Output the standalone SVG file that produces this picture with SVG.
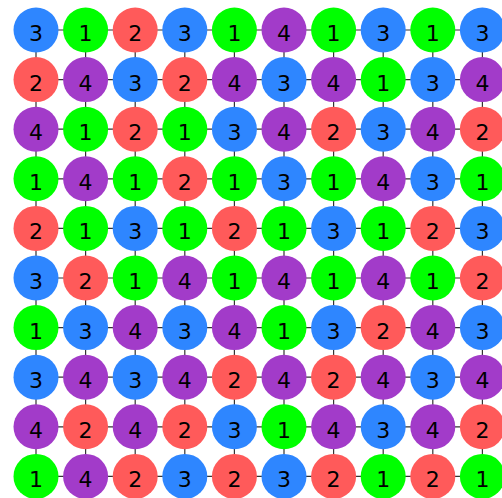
<svg xmlns="http://www.w3.org/2000/svg" width="502" height="498" viewBox="0 0 502 498">
<style>
.e{stroke:#333;stroke-width:1.2;fill:none}
.c1{fill:#00ff00}.c2{fill:#ff5a5a}.c3{fill:#2e86ff}.c4{fill:#a23bc9}
text{font-family:"DejaVu Sans",sans-serif;font-size:22px;fill:#000;text-anchor:middle}
</style>
<rect width="502" height="498" fill="#fff"/>
<g id="edges" class="e">
<path d="M36 30H482.4M36 79.6H482.4M36 129.2H482.4M36 178.8H482.4M36 228.4H482.4M36 278H482.4M36 327.6H482.4M36 377.2H482.4M36 426.8H482.4M36 476.4H482.4"/>
<path d="M36 30V476.4M85.6 30V476.4M135.2 30V476.4M184.8 30V476.4M234.4 30V476.4M284 30V476.4M333.6 30V476.4M383.2 30V476.4M432.8 30V476.4M482.4 30V476.4"/>
</g>
<g id="n0_0"><circle class="c3" cx="36" cy="30" r="22.5"/><text x="36" y="41">3</text></g>
<g id="n0_1"><circle class="c1" cx="85.6" cy="30" r="22.5"/><text x="85.6" y="41">1</text></g>
<g id="n0_2"><circle class="c2" cx="135.2" cy="30" r="22.5"/><text x="135.2" y="41">2</text></g>
<g id="n0_3"><circle class="c3" cx="184.8" cy="30" r="22.5"/><text x="184.8" y="41">3</text></g>
<g id="n0_4"><circle class="c1" cx="234.4" cy="30" r="22.5"/><text x="234.4" y="41">1</text></g>
<g id="n0_5"><circle class="c4" cx="284" cy="30" r="22.5"/><text x="284" y="41">4</text></g>
<g id="n0_6"><circle class="c1" cx="333.6" cy="30" r="22.5"/><text x="333.6" y="41">1</text></g>
<g id="n0_7"><circle class="c3" cx="383.2" cy="30" r="22.5"/><text x="383.2" y="41">3</text></g>
<g id="n0_8"><circle class="c1" cx="432.8" cy="30" r="22.5"/><text x="432.8" y="41">1</text></g>
<g id="n0_9"><circle class="c3" cx="482.4" cy="30" r="22.5"/><text x="482.4" y="41">3</text></g>
<g id="n1_0"><circle class="c2" cx="36" cy="79.6" r="22.5"/><text x="36" y="90.6">2</text></g>
<g id="n1_1"><circle class="c4" cx="85.6" cy="79.6" r="22.5"/><text x="85.6" y="90.6">4</text></g>
<g id="n1_2"><circle class="c3" cx="135.2" cy="79.6" r="22.5"/><text x="135.2" y="90.6">3</text></g>
<g id="n1_3"><circle class="c2" cx="184.8" cy="79.6" r="22.5"/><text x="184.8" y="90.6">2</text></g>
<g id="n1_4"><circle class="c4" cx="234.4" cy="79.6" r="22.5"/><text x="234.4" y="90.6">4</text></g>
<g id="n1_5"><circle class="c3" cx="284" cy="79.6" r="22.5"/><text x="284" y="90.6">3</text></g>
<g id="n1_6"><circle class="c4" cx="333.6" cy="79.6" r="22.5"/><text x="333.6" y="90.6">4</text></g>
<g id="n1_7"><circle class="c1" cx="383.2" cy="79.6" r="22.5"/><text x="383.2" y="90.6">1</text></g>
<g id="n1_8"><circle class="c3" cx="432.8" cy="79.6" r="22.5"/><text x="432.8" y="90.6">3</text></g>
<g id="n1_9"><circle class="c4" cx="482.4" cy="79.6" r="22.5"/><text x="482.4" y="90.6">4</text></g>
<g id="n2_0"><circle class="c4" cx="36" cy="129.2" r="22.5"/><text x="36" y="140.2">4</text></g>
<g id="n2_1"><circle class="c1" cx="85.6" cy="129.2" r="22.5"/><text x="85.6" y="140.2">1</text></g>
<g id="n2_2"><circle class="c2" cx="135.2" cy="129.2" r="22.5"/><text x="135.2" y="140.2">2</text></g>
<g id="n2_3"><circle class="c1" cx="184.8" cy="129.2" r="22.5"/><text x="184.8" y="140.2">1</text></g>
<g id="n2_4"><circle class="c3" cx="234.4" cy="129.2" r="22.5"/><text x="234.4" y="140.2">3</text></g>
<g id="n2_5"><circle class="c4" cx="284" cy="129.2" r="22.5"/><text x="284" y="140.2">4</text></g>
<g id="n2_6"><circle class="c2" cx="333.6" cy="129.2" r="22.5"/><text x="333.6" y="140.2">2</text></g>
<g id="n2_7"><circle class="c3" cx="383.2" cy="129.2" r="22.5"/><text x="383.2" y="140.2">3</text></g>
<g id="n2_8"><circle class="c4" cx="432.8" cy="129.2" r="22.5"/><text x="432.8" y="140.2">4</text></g>
<g id="n2_9"><circle class="c2" cx="482.4" cy="129.2" r="22.5"/><text x="482.4" y="140.2">2</text></g>
<g id="n3_0"><circle class="c1" cx="36" cy="178.8" r="22.5"/><text x="36" y="189.8">1</text></g>
<g id="n3_1"><circle class="c4" cx="85.6" cy="178.8" r="22.5"/><text x="85.6" y="189.8">4</text></g>
<g id="n3_2"><circle class="c1" cx="135.2" cy="178.8" r="22.5"/><text x="135.2" y="189.8">1</text></g>
<g id="n3_3"><circle class="c2" cx="184.8" cy="178.8" r="22.5"/><text x="184.8" y="189.8">2</text></g>
<g id="n3_4"><circle class="c1" cx="234.4" cy="178.8" r="22.5"/><text x="234.4" y="189.8">1</text></g>
<g id="n3_5"><circle class="c3" cx="284" cy="178.8" r="22.5"/><text x="284" y="189.8">3</text></g>
<g id="n3_6"><circle class="c1" cx="333.6" cy="178.8" r="22.5"/><text x="333.6" y="189.8">1</text></g>
<g id="n3_7"><circle class="c4" cx="383.2" cy="178.8" r="22.5"/><text x="383.2" y="189.8">4</text></g>
<g id="n3_8"><circle class="c3" cx="432.8" cy="178.8" r="22.5"/><text x="432.8" y="189.8">3</text></g>
<g id="n3_9"><circle class="c1" cx="482.4" cy="178.8" r="22.5"/><text x="482.4" y="189.8">1</text></g>
<g id="n4_0"><circle class="c2" cx="36" cy="228.4" r="22.5"/><text x="36" y="239.4">2</text></g>
<g id="n4_1"><circle class="c1" cx="85.6" cy="228.4" r="22.5"/><text x="85.6" y="239.4">1</text></g>
<g id="n4_2"><circle class="c3" cx="135.2" cy="228.4" r="22.5"/><text x="135.2" y="239.4">3</text></g>
<g id="n4_3"><circle class="c1" cx="184.8" cy="228.4" r="22.5"/><text x="184.8" y="239.4">1</text></g>
<g id="n4_4"><circle class="c2" cx="234.4" cy="228.4" r="22.5"/><text x="234.4" y="239.4">2</text></g>
<g id="n4_5"><circle class="c1" cx="284" cy="228.4" r="22.5"/><text x="284" y="239.4">1</text></g>
<g id="n4_6"><circle class="c3" cx="333.6" cy="228.4" r="22.5"/><text x="333.6" y="239.4">3</text></g>
<g id="n4_7"><circle class="c1" cx="383.2" cy="228.4" r="22.5"/><text x="383.2" y="239.4">1</text></g>
<g id="n4_8"><circle class="c2" cx="432.8" cy="228.4" r="22.5"/><text x="432.8" y="239.4">2</text></g>
<g id="n4_9"><circle class="c3" cx="482.4" cy="228.4" r="22.5"/><text x="482.4" y="239.4">3</text></g>
<g id="n5_0"><circle class="c3" cx="36" cy="278" r="22.5"/><text x="36" y="289">3</text></g>
<g id="n5_1"><circle class="c2" cx="85.6" cy="278" r="22.5"/><text x="85.6" y="289">2</text></g>
<g id="n5_2"><circle class="c1" cx="135.2" cy="278" r="22.5"/><text x="135.2" y="289">1</text></g>
<g id="n5_3"><circle class="c4" cx="184.8" cy="278" r="22.5"/><text x="184.8" y="289">4</text></g>
<g id="n5_4"><circle class="c1" cx="234.4" cy="278" r="22.5"/><text x="234.4" y="289">1</text></g>
<g id="n5_5"><circle class="c4" cx="284" cy="278" r="22.5"/><text x="284" y="289">4</text></g>
<g id="n5_6"><circle class="c1" cx="333.6" cy="278" r="22.5"/><text x="333.6" y="289">1</text></g>
<g id="n5_7"><circle class="c4" cx="383.2" cy="278" r="22.5"/><text x="383.2" y="289">4</text></g>
<g id="n5_8"><circle class="c1" cx="432.8" cy="278" r="22.5"/><text x="432.8" y="289">1</text></g>
<g id="n5_9"><circle class="c2" cx="482.4" cy="278" r="22.5"/><text x="482.4" y="289">2</text></g>
<g id="n6_0"><circle class="c1" cx="36" cy="327.6" r="22.5"/><text x="36" y="338.6">1</text></g>
<g id="n6_1"><circle class="c3" cx="85.6" cy="327.6" r="22.5"/><text x="85.6" y="338.6">3</text></g>
<g id="n6_2"><circle class="c4" cx="135.2" cy="327.6" r="22.5"/><text x="135.2" y="338.6">4</text></g>
<g id="n6_3"><circle class="c3" cx="184.8" cy="327.6" r="22.5"/><text x="184.8" y="338.6">3</text></g>
<g id="n6_4"><circle class="c4" cx="234.4" cy="327.6" r="22.5"/><text x="234.4" y="338.6">4</text></g>
<g id="n6_5"><circle class="c1" cx="284" cy="327.6" r="22.5"/><text x="284" y="338.6">1</text></g>
<g id="n6_6"><circle class="c3" cx="333.6" cy="327.6" r="22.5"/><text x="333.6" y="338.6">3</text></g>
<g id="n6_7"><circle class="c2" cx="383.2" cy="327.6" r="22.5"/><text x="383.2" y="338.6">2</text></g>
<g id="n6_8"><circle class="c4" cx="432.8" cy="327.6" r="22.5"/><text x="432.8" y="338.6">4</text></g>
<g id="n6_9"><circle class="c3" cx="482.4" cy="327.6" r="22.5"/><text x="482.4" y="338.6">3</text></g>
<g id="n7_0"><circle class="c3" cx="36" cy="377.2" r="22.5"/><text x="36" y="388.2">3</text></g>
<g id="n7_1"><circle class="c4" cx="85.6" cy="377.2" r="22.5"/><text x="85.6" y="388.2">4</text></g>
<g id="n7_2"><circle class="c3" cx="135.2" cy="377.2" r="22.5"/><text x="135.2" y="388.2">3</text></g>
<g id="n7_3"><circle class="c4" cx="184.8" cy="377.2" r="22.5"/><text x="184.8" y="388.2">4</text></g>
<g id="n7_4"><circle class="c2" cx="234.4" cy="377.2" r="22.5"/><text x="234.4" y="388.2">2</text></g>
<g id="n7_5"><circle class="c4" cx="284" cy="377.2" r="22.5"/><text x="284" y="388.2">4</text></g>
<g id="n7_6"><circle class="c2" cx="333.6" cy="377.2" r="22.5"/><text x="333.6" y="388.2">2</text></g>
<g id="n7_7"><circle class="c4" cx="383.2" cy="377.2" r="22.5"/><text x="383.2" y="388.2">4</text></g>
<g id="n7_8"><circle class="c3" cx="432.8" cy="377.2" r="22.5"/><text x="432.8" y="388.2">3</text></g>
<g id="n7_9"><circle class="c4" cx="482.4" cy="377.2" r="22.5"/><text x="482.4" y="388.2">4</text></g>
<g id="n8_0"><circle class="c4" cx="36" cy="426.8" r="22.5"/><text x="36" y="437.8">4</text></g>
<g id="n8_1"><circle class="c2" cx="85.6" cy="426.8" r="22.5"/><text x="85.6" y="437.8">2</text></g>
<g id="n8_2"><circle class="c4" cx="135.2" cy="426.8" r="22.5"/><text x="135.2" y="437.8">4</text></g>
<g id="n8_3"><circle class="c2" cx="184.8" cy="426.8" r="22.5"/><text x="184.8" y="437.8">2</text></g>
<g id="n8_4"><circle class="c3" cx="234.4" cy="426.8" r="22.5"/><text x="234.4" y="437.8">3</text></g>
<g id="n8_5"><circle class="c1" cx="284" cy="426.8" r="22.5"/><text x="284" y="437.8">1</text></g>
<g id="n8_6"><circle class="c4" cx="333.6" cy="426.8" r="22.5"/><text x="333.6" y="437.8">4</text></g>
<g id="n8_7"><circle class="c3" cx="383.2" cy="426.8" r="22.5"/><text x="383.2" y="437.8">3</text></g>
<g id="n8_8"><circle class="c4" cx="432.8" cy="426.8" r="22.5"/><text x="432.8" y="437.8">4</text></g>
<g id="n8_9"><circle class="c2" cx="482.4" cy="426.8" r="22.5"/><text x="482.4" y="437.8">2</text></g>
<g id="n9_0"><circle class="c1" cx="36" cy="476.4" r="22.5"/><text x="36" y="487.4">1</text></g>
<g id="n9_1"><circle class="c4" cx="85.6" cy="476.4" r="22.5"/><text x="85.6" y="487.4">4</text></g>
<g id="n9_2"><circle class="c2" cx="135.2" cy="476.4" r="22.5"/><text x="135.2" y="487.4">2</text></g>
<g id="n9_3"><circle class="c3" cx="184.8" cy="476.4" r="22.5"/><text x="184.8" y="487.4">3</text></g>
<g id="n9_4"><circle class="c2" cx="234.4" cy="476.4" r="22.5"/><text x="234.4" y="487.4">2</text></g>
<g id="n9_5"><circle class="c3" cx="284" cy="476.4" r="22.5"/><text x="284" y="487.4">3</text></g>
<g id="n9_6"><circle class="c2" cx="333.6" cy="476.4" r="22.5"/><text x="333.6" y="487.4">2</text></g>
<g id="n9_7"><circle class="c1" cx="383.2" cy="476.4" r="22.5"/><text x="383.2" y="487.4">1</text></g>
<g id="n9_8"><circle class="c2" cx="432.8" cy="476.4" r="22.5"/><text x="432.8" y="487.4">2</text></g>
<g id="n9_9"><circle class="c1" cx="482.4" cy="476.4" r="22.5"/><text x="482.4" y="487.4">1</text></g>
</svg>
